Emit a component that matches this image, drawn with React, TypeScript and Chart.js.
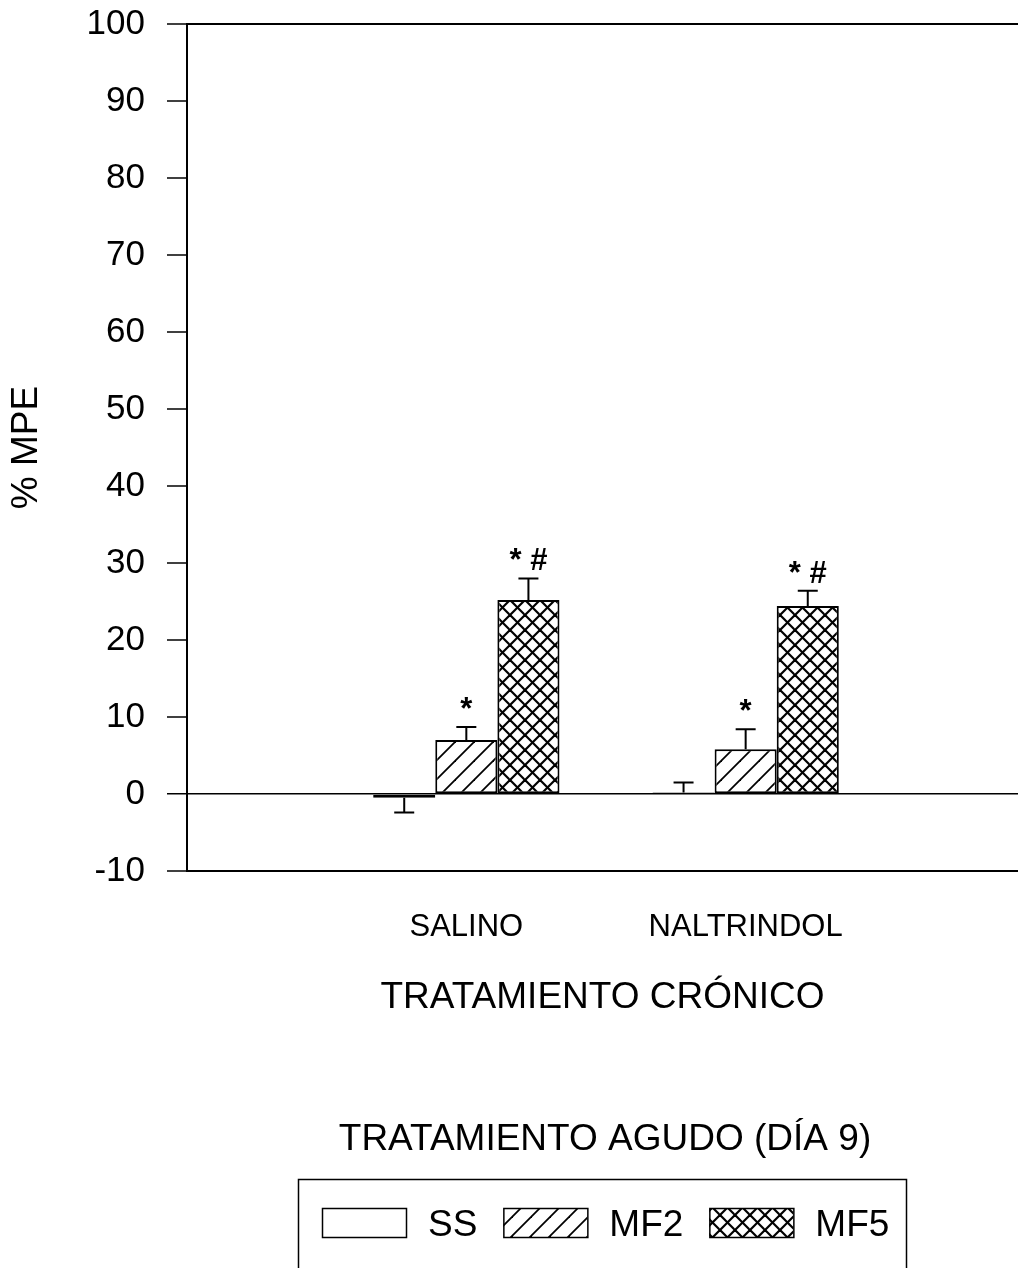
import { useEffect, useRef } from 'react';
import { Chart, registerables } from 'chart.js';

Chart.register(...registerables);

// Chronic-treatment groups and their positions on the x axis
const groups = ['SALINO', 'NALTRINDOL'];
const groupPositions = [1, 2];

// Acute treatment series (day 9), % MPE means and SEM
const seriesLabels = ['SS', 'MF2', 'MF5'];
const ssValues = [-0.5, 0.2];
const mf2Values = [7.0, 5.8];
const mf5Values = [25.2, 24.4];
const ssErrors = [1.9, 1.3];
const mf2Errors = [1.7, 2.6];
const mf5Errors = [2.8, 2.0];

// Significance marks above each bar
const ssMarks = ['', ''];
const mf2Marks = ['*', '*'];
const mf5Marks = ['* #', '* #'];

// Y axis range and step
const yMin = -10;
const yMax = 100;
const yStep = 10;

const yAxisTitle = '% MPE';
const xAxisTitle = 'TRATAMIENTO CRÓNICO';
const legendTitle = 'TRATAMIENTO AGUDO (DÍA 9)';

const FONT = "'Liberation Sans', Arial, Helvetica, sans-serif";

const W = 1018;
const H = 1268;

function makePattern(kind: 'empty' | 'diag' | 'cross'): CanvasPattern | string {
  if (kind === 'empty') return '#ffffff';
  const s = kind === 'diag' ? 19 : 15;
  const c = document.createElement('canvas');
  c.width = s;
  c.height = s;
  const g = c.getContext('2d')!;
  g.fillStyle = '#ffffff';
  g.fillRect(0, 0, s, s);
  g.strokeStyle = '#000000';
  g.lineWidth = kind === 'diag' ? 1.8 : 2.2;
  g.lineCap = 'square';
  const seg = (x1: number, y1: number, x2: number, y2: number) => {
    g.beginPath();
    g.moveTo(x1, y1);
    g.lineTo(x2, y2);
    g.stroke();
  };
  // "/" strokes
  seg(0, s, s, 0);
  seg(-s, s, s, -s);
  seg(0, 2 * s, 2 * s, 0);
  if (kind === 'cross') {
    // "\" strokes
    seg(0, 0, s, s);
    seg(-s, 0, s, 2 * s);
    seg(0, -s, 2 * s, s);
  }
  return g.createPattern(c, 'repeat')!;
}

const marksPlugin = {
  id: 'errorBarsAndMarks',
  afterDatasetsDraw(chart: any) {
    const { ctx, scales } = chart;
    const y = scales.y;
    ctx.save();
    chart.data.datasets.forEach((ds: any, i: number) => {
      const meta = chart.getDatasetMeta(i);
      meta.data.forEach((el: any, j: number) => {
        const v = ds.data[j].y;
        const e = ds.errors[j];
        const end = v >= 0 ? v + e : v - e;
        const y0 = y.getPixelForValue(v);
        const y1 = y.getPixelForValue(end);
        ctx.strokeStyle = '#000';
        ctx.lineWidth = 2;
        ctx.beginPath();
        ctx.moveTo(el.x, y0);
        ctx.lineTo(el.x, y1);
        ctx.moveTo(el.x - 10, y1);
        ctx.lineTo(el.x + 10, y1);
        ctx.stroke();
        const mark = ds.marks[j];
        if (mark) {
          ctx.fillStyle = '#000';
          ctx.font = `bold 31px ${FONT}`;
          ctx.textAlign = 'center';
          ctx.textBaseline = 'alphabetic';
          ctx.fillText(mark, el.x, y1 - 8);
        }
      });
    });
    ctx.restore();
  },
};

const legendPlugin = {
  id: 'boxedLegend',
  afterDraw(chart: any) {
    const { ctx } = chart;
    ctx.save();
    ctx.fillStyle = '#000';
    ctx.font = `37px ${FONT}`;
    ctx.textAlign = 'center';
    ctx.textBaseline = 'middle';
    ctx.fillText(legendTitle, 605, 1140);
    ctx.strokeStyle = '#000';
    ctx.lineWidth = 1.5;
    ctx.strokeRect(298.5, 1179.5, 608, 140);
    let x = 322;
    chart.data.datasets.forEach((ds: any) => {
      ctx.fillStyle = ds.backgroundColor;
      ctx.fillRect(x, 1208, 84, 29);
      ctx.strokeRect(x + 0.5, 1208.5, 84, 29);
      x += 84 + 22;
      ctx.fillStyle = '#000';
      ctx.textAlign = 'left';
      ctx.textBaseline = 'alphabetic';
      ctx.fillText(ds.label, x, 1236);
      x += ctx.measureText(ds.label).width + 26;
    });
    ctx.restore();
  },
};

export default function App() {
  const ref = useRef<HTMLCanvasElement>(null);

  useEffect(() => {
    const canvas = ref.current;
    if (!canvas) return;
    const fills = [makePattern('empty'), makePattern('diag'), makePattern('cross')];
    const values = [ssValues, mf2Values, mf5Values];
    const errors = [ssErrors, mf2Errors, mf5Errors];
    const marks = [ssMarks, mf2Marks, mf5Marks];

    const chart = new Chart(canvas, {
      type: 'bar',
      data: {
        datasets: seriesLabels.map((label, i) => ({
          label,
          data: groupPositions.map((p, j) => ({ x: p, y: values[i][j] })),
          errors: errors[i],
          marks: marks[i],
          backgroundColor: fills[i],
          borderColor: '#000',
          borderWidth: 2,
          borderSkipped: false,
          categoryPercentage: 0.667,
          barPercentage: 1,
        })) as any,
      },
      options: {
        responsive: false,
        animation: false,
        events: [],
        layout: { padding: { top: 24, bottom: H - 871 - 150, left: 0, right: 0 } },
        plugins: {
          legend: { display: false },
          tooltip: { enabled: false },
        },
        scales: {
          x: {
            type: 'linear',
            min: 0,
            max: 2.975,
            offset: false,
            afterBuildTicks: (axis: any) => {
              axis.ticks = groupPositions.map((v) => ({ value: v }));
            },
            afterFit: (axis: any) => {
              axis.height = 150;
              axis.paddingLeft = 0;
              axis.paddingRight = 0;
            },
            grid: { display: false, drawTicks: false },
            border: { display: true, color: '#000', width: 2 },
            ticks: {
              color: '#000',
              font: { family: FONT, size: 31 },
              padding: 38,
              maxRotation: 0,
              autoSkip: false,
              callback: (v: any) => {
                const k = groupPositions.indexOf(Number(v));
                return k >= 0 ? groups[k] : '';
              },
            },
            title: {
              display: true,
              text: xAxisTitle,
              color: '#000',
              font: { family: FONT, size: 37 },
              padding: { top: 0, bottom: 1 },
            },
          },
          y: {
            min: yMin,
            max: yMax,
            afterFit: (axis: any) => {
              axis.width = 187;
              axis.paddingTop = 0;
              axis.paddingBottom = 0;
            },
            ticks: {
              stepSize: yStep,
              color: '#000',
              font: { family: FONT, size: 35 },
              padding: 22,
            },
            grid: {
              color: (c: any) =>
                c.tick && (c.tick.value === 0 || c.tick.value === yMax || c.tick.value === yMin)
                  ? '#000'
                  : 'rgba(0,0,0,0)',
              lineWidth: (c: any) => (c.tick && c.tick.value === 0 ? 1.5 : 2),
              tickLength: 20,
              tickColor: '#000',
              tickWidth: 1.5,
            },
            border: { display: true, color: '#000', width: 2 },
            title: {
              display: true,
              text: yAxisTitle,
              color: '#000',
              font: { family: FONT, size: 37 },
              padding: { top: 5, bottom: 0 },
            },
          },
        },
      },
      plugins: [marksPlugin, legendPlugin],
    } as any);

    return () => chart.destroy();
  }, []);

  return (
    <div style={{ position: 'absolute', left: 0, top: 0, width: W, height: H, background: '#fff' }}>
      <canvas ref={ref} width={W} height={H} style={{ display: 'block' }} />
    </div>
  );
}
